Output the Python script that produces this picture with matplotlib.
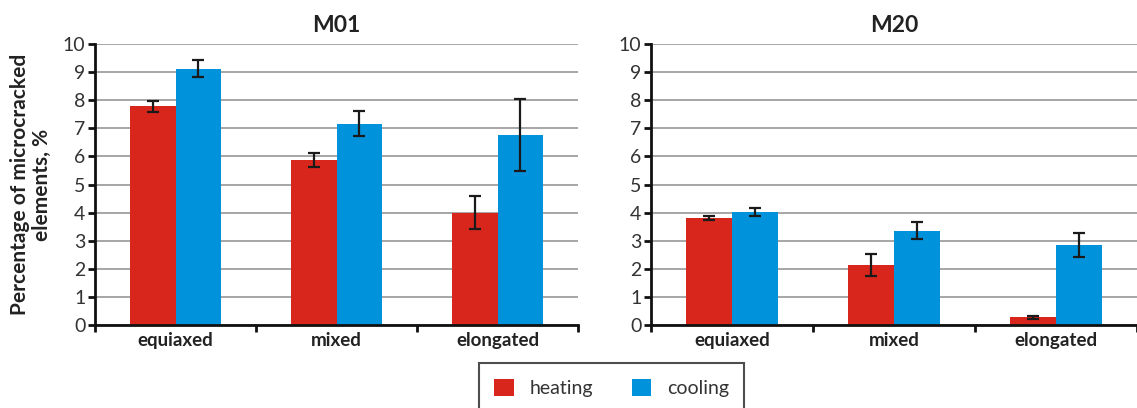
import numpy as np
from matplotlib import pyplot as plt
from matplotlib.patches import Patch

plt.rcParams['font.family'] = ['Lato', 'DejaVu Sans']

CATEGORIES = ['equiaxed', 'mixed', 'elongated']
SERIES = ['heating', 'cooling']
COLORS = ['#d8261d', '#0092db']

M01_HEATING = [7.78, 5.87, 4.00]
M01_HEATING_ERR = [0.20, 0.25, 0.60]
M01_COOLING = [9.12, 7.17, 6.77]
M01_COOLING_ERR = [0.30, 0.45, 1.28]

M20_HEATING = [3.81, 2.13, 0.27]
M20_HEATING_ERR = [0.07, 0.38, 0.06]
M20_COOLING = [4.02, 3.35, 2.85]
M20_COOLING_ERR = [0.15, 0.30, 0.42]

W, H = 1137, 408
BAR_W = 0.285


def draw_panel(ax, title, heating, heating_err, cooling, cooling_err):
    x = np.arange(len(CATEGORIES)) + 0.5
    for vals, errs, color, off in ((heating, heating_err, COLORS[0], -BAR_W / 2),
                                   (cooling, cooling_err, COLORS[1], BAR_W / 2)):
        ax.bar(x + off, vals, width=BAR_W, color=color, zorder=2)
        ax.errorbar(x + off, vals, yerr=errs, fmt='none', ecolor='#1a1a1a',
                    elinewidth=1.6, capsize=4, capthick=1.6, zorder=3)
    ax.set_xlim(0, 3)
    ax.set_ylim(0, 10)
    ax.set_yticks(range(0, 11))
    ax.yaxis.grid(True, color='#a6a6a6', linewidth=1.4, zorder=0)
    ax.set_axisbelow(True)
    for side in ('top', 'right'):
        ax.spines[side].set_visible(False)
    for side in ('left', 'bottom'):
        ax.spines[side].set_linewidth(2)
        ax.spines[side].set_color('#111111')
    ax.set_xticks([0, 1, 2, 3])
    ax.set_xticklabels([])
    ax.set_xticks(x, minor=True)
    ax.set_xticklabels(CATEGORIES, minor=True, fontsize=13.5, fontweight='bold', color='#222222')
    ax.tick_params(axis='x', which='minor', length=0, pad=5)
    ax.tick_params(axis='x', which='major', length=5, width=2, color='#111111')
    ax.tick_params(axis='y', length=5, width=2, color='#111111', labelsize=14,
                   labelcolor='#333333', pad=2)
    ax.set_title(title, fontsize=16.5, fontweight='bold', color='#222222', pad=9)


fig = plt.figure(figsize=(W / 100, H / 100), dpi=100)
ax1 = fig.add_axes([95 / W, (H - 325) / H, 483 / W, 281 / H])
ax2 = fig.add_axes([651 / W, (H - 325) / H, 486 / W, 281 / H])

draw_panel(ax1, 'M01', M01_HEATING, M01_HEATING_ERR, M01_COOLING, M01_COOLING_ERR)
draw_panel(ax2, 'M20', M20_HEATING, M20_HEATING_ERR, M20_COOLING, M20_COOLING_ERR)

ax1.set_ylabel('Percentage of microcracked\nelements, %', fontsize=15,
               fontweight='bold', color='#222222', labelpad=8, linespacing=1.1)

handles = [Patch(facecolor=c, edgecolor='none') for c in COLORS]
leg = fig.legend(handles, SERIES, loc='upper center', ncol=2,
                 bbox_to_anchor=(611.5 / W, 1 - 363 / H), fontsize=14,
                 frameon=True, fancybox=False, edgecolor='#222222',
                 handlelength=1.0, handleheight=1.0, handletextpad=0.8,
                 columnspacing=2.0, borderpad=0.8, borderaxespad=0)
leg.get_frame().set_linewidth(1.5)
for t in leg.get_texts():
    t.set_color('#333333')

fig.savefig('out.png', dpi=100)
